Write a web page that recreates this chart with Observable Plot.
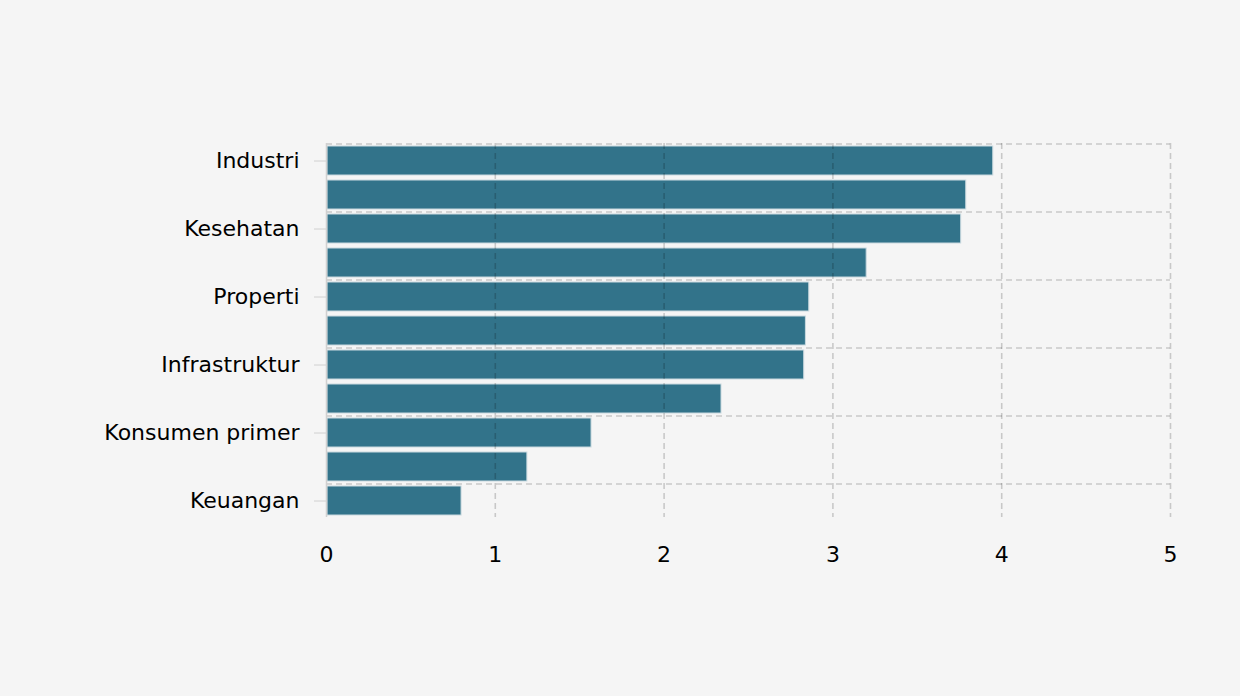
<!DOCTYPE html>
<html>
<head>
<meta charset="utf-8">
<script src="https://cdn.jsdelivr.net/npm/d3@7"></script>
<script src="https://cdn.jsdelivr.net/npm/@observablehq/plot@0.6"></script>
<style>
  html, body { margin: 0; padding: 0; background: #f5f5f5; }
  #chart { width: 1240px; height: 696px; }
</style>
</head>
<body>
<div id="chart"></div>
<script>
// Categories (top to bottom); only every other one carries a visible label
const sectors = ["Industri", "Energi", "Kesehatan", "Barang baku", "Properti", "Teknologi",
                 "Infrastruktur", "Transportasi", "Konsumen primer", "Konsumen non-primer", "Keuangan"];
const values = [3.95, 3.79, 3.76, 3.20, 2.86, 2.84, 2.83, 2.34, 1.57, 1.19, 0.80];
const labeledSectors = ["Industri", "Kesehatan", "Properti", "Infrastruktur", "Konsumen primer", "Keuangan"];
const xTicks = [0, 1, 2, 3, 4, 5];

const data = sectors.map((s, i) => ({sector: s, value: values[i]}));

const W = 1240, H = 696;
const mTop = 143, mBottom = 179, mLeft = 326, mRight = 70;
const padInner = 0.15, padOuter = 0.075;
const step = (H - mTop - mBottom) / (sectors.length - padInner + 2 * padOuter);

const gridStyle = {stroke: "#000", strokeOpacity: 0.18, strokeWidth: 1.6, strokeDasharray: "6,4"};

const chart = Plot.plot({
  width: W,
  height: H,
  marginTop: mTop,
  marginBottom: mBottom,
  marginLeft: mLeft,
  marginRight: mRight,
  style: {background: "#f5f5f5", fontFamily: "DejaVu Sans", fontSize: "22px", color: "#000"},
  x: {domain: [0, 5], ticks: xTicks},
  y: {domain: sectors, paddingInner: padInner, paddingOuter: padOuter, align: 0.5},
  marks: [
    Plot.barX(data, {x: "value", y: "sector", fill: "#32738a", stroke: "#c9d9df", strokeWidth: 1, insetLeft: 1}),
    Plot.gridX(xTicks.filter(d => d > 0), gridStyle),
    Plot.ruleY(labeledSectors, {y: d => d, dy: -step / 2, ...gridStyle}),
    Plot.ruleX([0], {stroke: "#d0d0d0", strokeWidth: 1.5}),
    Plot.axisY({ticks: labeledSectors, tickSize: 12, tickPadding: 15, stroke: "#d0d0d0", fill: "#000", fontSize: 22, label: null}),
    Plot.axisX({ticks: xTicks, tickFormat: d3.format("d"), tickSize: 0, tickPadding: 29, fill: "#000", fontSize: 22, label: null})
  ]
});

document.getElementById("chart").appendChild(chart);
</script>
</body>
</html>
